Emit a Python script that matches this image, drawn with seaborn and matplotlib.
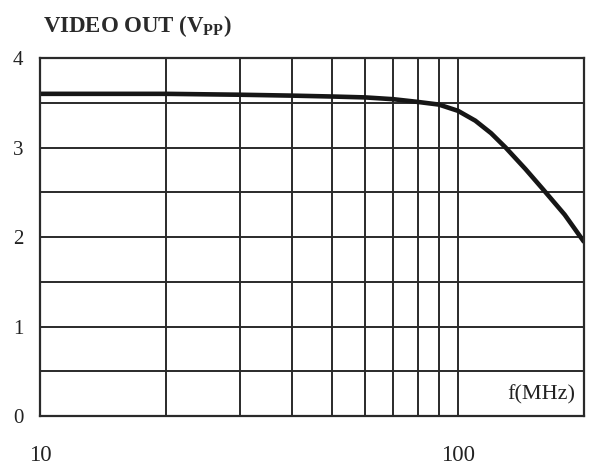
import matplotlib

matplotlib.use("Agg")

import matplotlib.pyplot as plt
import numpy as np
import pandas as pd
import seaborn as sns
from matplotlib.ticker import FixedLocator, NullFormatter

sns.set_theme(style="white")
plt.rcParams["font.family"] = ["Liberation Serif", "DejaVu Serif"]

# frequency response
freq_mhz = [10, 20, 30, 40, 50, 60, 70, 80, 90, 100, 110, 120, 130, 145, 160, 180, 200]
video_out = [3.60, 3.60, 3.59, 3.58, 3.57, 3.56, 3.54, 3.51, 3.48, 3.41, 3.30, 3.16, 3.00, 2.76, 2.53, 2.25, 1.95]

x_grid = [10, 20, 30, 40, 50, 60, 70, 80, 90, 100, 200]
y_grid = [0, 0.5, 1, 1.5, 2, 2.5, 3, 3.5, 4]
y_labels = [0, 1, 2, 3, 4]
x_labels = [10, 100]

df = pd.DataFrame({"f": freq_mhz, "v": video_out})

fig = plt.figure(figsize=(6.1, 4.68), dpi=100)
ax = fig.add_axes([0.066, 0.111, 0.891, 0.765])

sns.lineplot(data=df, x="f", y="v", ax=ax, color="#161616", lw=3.3)

ax.set_xscale("log")
ax.set_xlim(10, 200)
ax.set_ylim(0, 4)

for xv in x_grid:
    ax.axvline(xv, color="#2a2a2a", lw=1.4, zorder=1)
for yv in y_grid:
    ax.axhline(yv, color="#2a2a2a", lw=1.4, zorder=1)

ax.xaxis.set_major_locator(FixedLocator(x_labels))
ax.xaxis.set_minor_locator(FixedLocator([]))
ax.xaxis.set_minor_formatter(NullFormatter())
ax.set_xticklabels([str(v) for v in x_labels])
ax.set_yticks(y_labels)
ax.set_yticklabels([str(v) for v in y_labels])
ax.tick_params(axis="x", length=0, pad=21, labelsize=16.5, colors="#222222")
ax.tick_params(axis="y", length=0, pad=12, labelsize=15, colors="#222222")

for s in ax.spines.values():
    s.set_color("#2a2a2a")
    s.set_linewidth(1.6)

ax.set_xlabel("")
ax.set_ylabel("")

fig.text(0.07, 0.944, "VIDEO OUT (V$_{\\mathregular{PP}}$)", fontsize=16.5,
         fontweight="bold", color="#2a2a2a", ha="left", va="center")
ax.text(0.985, 0.06, "f(MHz)", transform=ax.transAxes, fontsize=16,
        color="#222222", ha="right", va="center")

fig.savefig("out.png", dpi=100)
plt.close(fig)
